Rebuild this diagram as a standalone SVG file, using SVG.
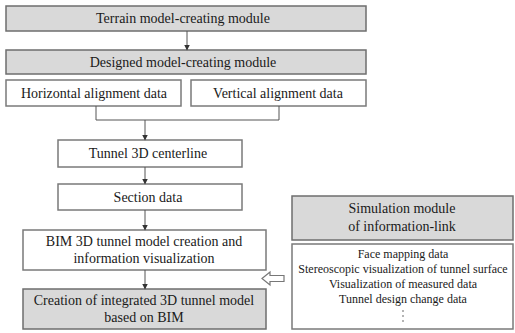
<svg xmlns="http://www.w3.org/2000/svg" width="515" height="333" viewBox="0 0 515 333">
<defs>
<marker id="ah" markerWidth="6" markerHeight="6" refX="5" refY="3" orient="auto" markerUnits="userSpaceOnUse">
<path d="M0,0 L6,3 L0,6 Z" fill="#333"/>
</marker>
<style>
.box{fill:#fff;stroke:#7a7a7a;stroke-width:1.5}
.gbox{fill:#d9d9d9;stroke:#6e6e6e;stroke-width:1.5}
text{font-family:"Liberation Serif","Times New Roman",serif;fill:#1a1a1a;text-anchor:middle}
.t{font-size:14px}
.s{font-size:12px}
.ln{fill:none;stroke:#555;stroke-width:1}
</style>
</defs>
<rect width="515" height="333" fill="#fff"/>
<g id="terrain"><rect class="gbox" x="6" y="6" width="360" height="25"/><text class="t" x="183" y="23">Terrain model-creating module</text></g>
<g id="designed"><rect class="gbox" x="6" y="50" width="360" height="24"/><text class="t" x="183" y="67">Designed model-creating module</text></g>
<g id="horizontal"><rect class="box" x="6" y="80" width="175" height="26"/><text class="t" x="94" y="98">Horizontal alignment data</text></g>
<g id="vertical"><rect class="box" x="191" y="80" width="175" height="26"/><text class="t" x="278" y="98">Vertical alignment data</text></g>
<g id="centerline"><rect class="box" x="58" y="140" width="184" height="27"/><text class="t" x="148" y="158">Tunnel 3D centerline</text></g>
<g id="section"><rect class="box" x="58" y="184" width="184" height="26"/><text class="t" x="148" y="202">Section data</text></g>
<g id="bim"><rect class="box" x="23" y="230" width="243" height="40"/><text class="t" x="144" y="246">BIM 3D tunnel model creation and</text><text class="t" x="144" y="263">information visualization</text></g>
<g id="creation"><rect class="gbox" x="23" y="289" width="243" height="40"/><text class="t" x="144" y="305">Creation of integrated 3D tunnel model</text><text class="t" x="144" y="322">based on BIM</text></g>
<g id="simulation"><rect class="gbox" x="292" y="196" width="221" height="44"/><text class="t" x="402" y="213">Simulation module</text><text class="t" x="402" y="231">of information-link</text></g>
<g id="datalist"><rect class="box" x="292" y="244" width="221" height="85"/>
<text class="s" x="403" y="258">Face mapping data</text>
<text class="s" x="403" y="273">Stereoscopic visualization of tunnel surface</text>
<text class="s" x="403" y="288">Visualization of measured data</text>
<text class="s" x="403" y="303">Tunnel design change data</text>
<circle cx="403" cy="311" r="0.8" fill="#555"/><circle cx="403" cy="316" r="0.8" fill="#555"/><circle cx="403" cy="321" r="0.8" fill="#555"/>
</g>
<g id="connectors">
<line class="ln" x1="187" y1="31" x2="187" y2="49.5" marker-end="url(#ah)"/>
<polyline class="ln" points="96,106 96,120 279,120 279,106"/>
<line class="ln" x1="145" y1="120" x2="145" y2="139.5" marker-end="url(#ah)"/>
<line class="ln" x1="145" y1="167" x2="145" y2="183.5" marker-end="url(#ah)"/>
<line class="ln" x1="145" y1="210" x2="145" y2="229.5" marker-end="url(#ah)"/>
<line class="ln" x1="145" y1="270" x2="145" y2="288.5" marker-end="url(#ah)"/>
<path d="M262,278.5 L270,272 L270,275.5 L284,275.5 L284,281.5 L270,281.5 L270,285 Z" fill="#fff" stroke="#777" stroke-width="1.2"/>
</g>
</svg>
